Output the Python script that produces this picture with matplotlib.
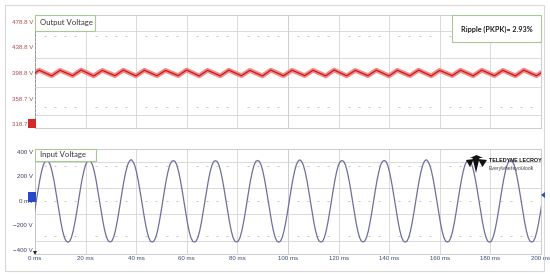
import numpy as np
import matplotlib.pyplot as plt
from matplotlib.patches import Rectangle, Polygon
from matplotlib.transforms import blended_transform_factory

plt.rcParams['font.family'] = ['Liberation Sans Narrow', 'Liberation Sans', 'DejaVu Sans']

# ---- data ----
time_ticks = [0, 20, 40, 60, 80, 100, 120, 140, 160, 180, 200]
time_labels = ['0 ms', '20 ms', '40 ms', '60 ms', '80 ms', '100 ms',
               '120 ms', '140 ms', '160 ms', '180 ms', '200 ms']

out_ticks = [478.8, 438.8, 398.8, 358.7, 318.7]
out_labels = ['478.8 V', '438.8 V', '398.8 V', '358.7 V', '318.7 V']

in_ticks = [400, 200, 0, -200, -400]
in_labels = ['400 V', '200 V', '0 mV', '\u2212200 V', '\u2212400 V']

# output ripple (120 Hz) vertices: ms / V
ripple_t = [0, 1.6, 6.6, 9.9, 14.9, 18.2, 23.2, 26.6, 31.6, 34.9, 39.9,
            43.2, 48.2, 51.6, 56.6, 59.9, 64.9, 68.2, 73.2, 76.6, 81.6,
            84.9, 89.9, 93.2, 98.2, 101.6, 106.6, 109.9, 114.9, 118.2, 123.2,
            126.6, 131.6, 134.9, 139.9, 143.2, 148.2, 151.6, 156.6, 159.9, 164.9,
            168.2, 173.2, 176.6, 181.6, 184.9, 189.9, 193.2, 198.2, 200]
ripple_v = [398.8, 403.2, 394.3, 403.0, 394.6, 403.4, 394.1, 402.9, 394.5, 403.3,
            394.2, 403.1, 394.4, 402.8, 394.6, 403.4, 394.2, 403.0, 394.3, 403.2,
            394.5, 402.9, 394.1, 403.3, 394.4, 403.1, 394.6, 403.0, 394.2, 403.4,
            394.3, 402.9, 394.5, 403.2, 394.1, 403.0, 394.4, 403.3, 394.2, 402.8,
            394.6, 403.1, 394.3, 403.2, 394.5, 403.0, 394.2, 403.3, 394.4, 398.9]

# input line voltage (60 Hz), sampled every input_dt ms from input_t0
input_t0 = -0.19
input_dt = 0.6944
input_v = [
    -90, 0, 89, 172, 241, 294, 323, 330, 323, 294, 241, 172, 89, 0, -90, -174, -245, -298, -328, -336, -329, -298, -245, -174,
    -91, 0, 88, 171, 240, 293, 322, 331, 324, 295, 242, 173, 89, 0, -89, -173, -244, -297, -327, -334, -328, -297, -244, -173,
    -90, 0, 89, 172, 241, 295, 325, 338, 322, 293, 240, 171, 88, 0, -90, -174, -245, -298, -329, -335, -327, -298, -245, -174,
    -90, 0, 89, 172, 241, 294, 323, 330, 323, 294, 241, 172, 89, 0, -90, -175, -246, -299, -328, -335, -328, -298, -245, -174,
    -89, 0, 88, 171, 240, 293, 323, 329, 322, 293, 241, 172, 89, 0, -90, -174, -245, -298, -328, -334, -327, -297, -244, -173,
    -90, 0, 89, 172, 241, 294, 324, 331, 323, 294, 241, 172, 89, 0, -90, -174, -245, -298, -328, -336, -328, -298, -245, -174,
    -90, 0, 89, 172, 242, 295, 325, 336, 323, 294, 241, 172, 89, 0, -90, -174, -245, -298, -328, -335, -328, -298, -245, -174,
    -90, 0, 89, 172, 241, 294, 323, 330, 323, 294, 241, 172, 89, 0, -90, -174, -245, -298, -327, -334, -327, -297, -245, -174,
    -90, 0, 89, 172, 241, 294, 323, 331, 324, 294, 241, 172, 89, 0, -90, -174, -245, -298, -328, -335, -328, -298, -245, -174,
    -90, 0, 89, 172, 241, 295, 326, 337, 322, 293, 240, 172, 89, 0, -90, -174, -245, -298, -328, -335, -328, -298, -245, -174,
    -90, 0, 89, 172, 241, 294, 323, 330, 323, 294, 241, 172, 89, 0, -90, -174, -245, -298, -328, -336, -328, -298, -245, -174,
    -90, 0, 89, 172, 241, 294, 323, 330, 323, 294, 241, 172, 89, 0, -90, -174, -245, -298, -328, -335, -328, -298, -245, -174,
    -90, 0,
]
input_t = input_t0 + input_dt * np.arange(len(input_v))

ripple_text = 'Ripple (PKPK)= 2.93%'

# ---- figure ----
W, H = 550, 277
fig = plt.figure(figsize=(5.5, 2.77), dpi=100)


def fx(x):
    return x / W


def fy(y):
    return 1 - y / H


def px_box(x0, y0, x1, y1):
    return [fx(x0), fy(y1), (x1 - x0) / W, (y1 - y0) / H]


grid_c = '#d4d4d4'
spine_c = '#c4c4c4'


def style_panel(ax, solid_rows, dotted_rows):
    ax.set_xlim(0, 200)
    ax.set_xticks(time_ticks)
    ax.grid(axis='x', color=grid_c, lw=0.6)
    for s in ax.spines.values():
        s.set_color(spine_c)
        s.set_linewidth(0.6)
    tr = blended_transform_factory(ax.transData, ax.transAxes)
    for f in solid_rows:
        ax.plot([0, 200], [f, f], transform=tr, color=grid_c, lw=0.6, zorder=0.5)
    xs = [x for x in np.arange(4, 200, 4) if x % 20]
    for f in dotted_rows:
        ax.plot(xs, [f] * len(xs), transform=tr, ls='none', marker='_',
                ms=2, mew=0.6, color='#bcbcbc', zorder=0.5)
    ax.axvline(100, color='#a8a8a8', lw=0.6, zorder=0.6)
    ax.tick_params(length=0, pad=1.5)


# top: output voltage
ax1 = fig.add_axes(px_box(35, 15, 541, 128))
style_panel(ax1, [0.858, 0.619, 0.363, 0.115], [0.814, 0.186])
ax1.set_ylim(312.4, 489.8)
ax1.set_yticks(out_ticks)
ax1.set_yticklabels(out_labels, fontsize=4.4, color='#b04848')
ax1.set_xticklabels([])
ax1.spines['left'].set_linestyle((0, (3, 2)))
ax1.spines['left'].set_color('#888888')
ax1.plot(ripple_t, ripple_v, color='#f07878', lw=3.4, alpha=0.85, zorder=2)
ax1.plot(ripple_t, ripple_v, color='#c81818', lw=0.9, zorder=3)

# bottom: input voltage
ax2 = fig.add_axes(px_box(35, 149, 541, 254))
style_panel(ax2, [0.876, 0.629, 0.381, 0.124], [0.838, 0.171])
ax2.set_ylim(-432.7, 424.5)
ax2.set_yticks(in_ticks)
ax2.set_yticklabels(in_labels, fontsize=4.4, color='#3a4060')
ax2.set_xticklabels(time_labels, fontsize=4.4, color='#3a4a70')
xs0 = [x for x in np.arange(4, 200, 4) if x % 20]
ax2.plot(xs0, [0] * len(xs0), ls='none', marker='_', ms=2, mew=0.6,
         color='#bcbcbc', zorder=0.5)
ax2.plot(input_t, input_v, color='#6f6f9c', lw=0.9, zorder=3)

# ---- overlays in pixel coordinates ----
box_edge = '#a9c89a'


def label_box(x0, y0, x1, y1):
    fig.patches.append(Rectangle((fx(x0), fy(y1)), fx(x1 - x0), (y1 - y0) / H,
                                 transform=fig.transFigure, facecolor='white',
                                 edgecolor=box_edge, lw=0.8, zorder=5))


label_box(35, 15, 95, 31)
fig.text(fx(40), fy(23), 'Output Voltage', fontsize=5.6, family=['Lato', 'DejaVu Sans'],
         color='#333333', va='center', ha='left', zorder=6)
label_box(35, 149, 96, 161)
fig.text(fx(40), fy(155), 'Input Voltage', fontsize=5.6, family=['Lato', 'DejaVu Sans'],
         color='#333333', va='center', ha='left', zorder=6)
label_box(452, 15, 541, 42)
fig.text(fx(496.5), fy(29), ripple_text, fontsize=5.2, family=['Lato', 'DejaVu Sans'],
         weight='bold', color='#222222', va='center', ha='center', zorder=6)

# channel markers
fig.patches.append(Rectangle((fx(28), fy(128)), fx(8), 9 / H, transform=fig.transFigure,
                             facecolor='#d42a2a', edgecolor='none', zorder=5))
fig.patches.append(Rectangle((fx(28), fy(202)), fx(8), 10 / H, transform=fig.transFigure,
                             facecolor='#2848c8', edgecolor='none', zorder=5))
fig.patches.append(Polygon([(fx(541), fy(195)), (fx(545), fy(192)), (fx(545), fy(198))],
                           closed=True, transform=fig.transFigure,
                           facecolor='#3050c0', edgecolor='none', zorder=5))
fig.patches.append(Polygon([(fx(33), fy(251)), (fx(37), fy(251)), (fx(35), fy(255))],
                           closed=True, transform=fig.transFigure,
                           facecolor='#222222', edgecolor='none', zorder=5))

# logo
logo = [[(466, 160), (474, 159), (470, 167)],
        [(472.5, 158), (479.5, 158), (476, 173)],
        [(478, 159), (487, 160), (482.5, 167)],
        [(470, 158), (483, 158), (476.5, 155)]]
for tri in logo:
    fig.patches.append(Polygon([(fx(a), fy(b)) for a, b in tri], closed=True,
                               transform=fig.transFigure, facecolor='#111111',
                               edgecolor='none', zorder=5))
fig.text(fx(489), fy(160), 'TELEDYNE LECROY', fontsize=3.9, weight='bold', color='#111111',
         va='center', ha='left', zorder=6)
fig.text(fx(489), fy(168.5), 'Everywhereyoulook', fontsize=3.7, color='#444444',
         va='center', ha='left', zorder=6)

# outer frame
fig.patches.append(Rectangle((fx(5), fy(271)), fx(539), 266 / H, transform=fig.transFigure,
                             fill=False, edgecolor='#d8d8d8', lw=0.8, zorder=1))

fig.savefig('out.png', dpi=100)
